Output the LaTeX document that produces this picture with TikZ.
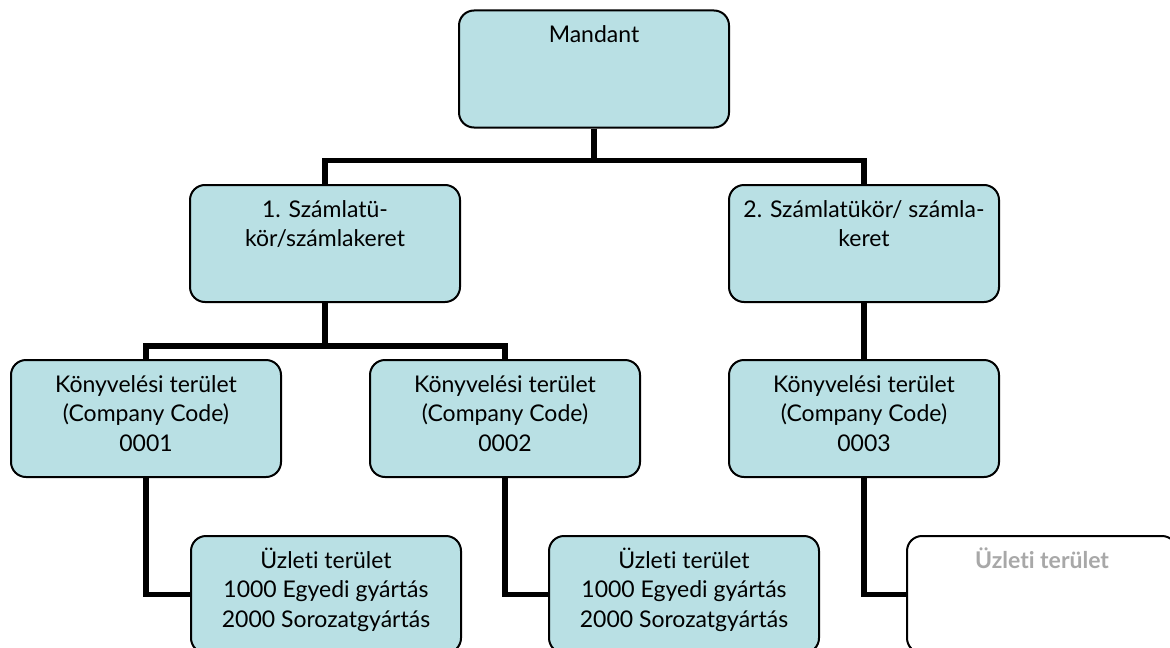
\documentclass[tikz,border=0pt]{standalone}
\usepackage{fontspec}
\setmainfont{Lato}[Ligatures=NoCommon]
\usetikzlibrary{calc,positioning}
\definecolor{boxblue}{RGB}{185,224,228}
\definecolor{greytext}{RGB}{168,168,168}
\newcommand{\boxtext}[1]{\parbox[c][58.5pt][t]{135pt}{\centering\rule{0pt}{16pt}#1}}

\begin{document}
\begin{tikzpicture}[x=0.5pt,y=-0.5pt,
        unit/.style={draw=black,line width=1pt,rounded corners=7.5pt,fill=boxblue,inner sep=0pt,font=\fontsize{11.5}{14.8}\selectfont},
        emptyunit/.style={unit,fill=white,text=greytext,font=\fontsize{11.5}{14.8}\selectfont\bfseries},
        link/.style={line width=2.8pt}]
        \clip (0,0) rectangle (1170,647);
        %\draw[help lines] (0,0) grid (1170,647);
        \node[unit] (mandant) at (594,69) {\boxtext{Mandant}};
        \node[unit] (szamla1) at (325,243.5) {\boxtext{1. Számlatü-\\kör/számlakeret}};
        \node[unit] (szamla2) at (864,243.5) {\boxtext{2. Számlatükör/ számla-\\keret}};
        \node[unit] (konyv1) at (146,418.5) {\boxtext{Könyvelési terület\\(Company Code)\\0001}};
        \node[unit] (konyv2) at (505,418.5) {\boxtext{Könyvelési terület\\(Company Code)\\0002}};
        \node[unit] (konyv3) at (864,418.5) {\boxtext{Könyvelési terület\\(Company Code)\\0003}};
        \node[unit] (uzlet1) at (326,594.5) {\boxtext{Üzleti terület\\1000 Egyedi gyártás\\2000 Sorozatgyártás}};
        \node[unit] (uzlet2) at (684,594.5) {\boxtext{Üzleti terület\\1000 Egyedi gyártás\\2000 Sorozatgyártás}};
        \node[emptyunit] (uzlet3) at (1042,594.5) {\boxtext{Üzleti terület}};
        
        \draw[link] (mandant.south) -- ++(0,32) -| (szamla1.north);
        \draw[link] (mandant.south) -- ++(0,32) -| (szamla2.north);
        \draw[link] (szamla1.south) -- ++(0,43) -| (konyv1.north);
        \draw[link] (szamla1.south) -- ++(0,43) -| (konyv2.north);
        \draw[link] (szamla2.south) -- (konyv3.north);
        \draw[link] (konyv1.south) |- (uzlet1.west);
        \draw[link] (konyv2.south) |- (uzlet2.west);
        \draw[link] (konyv3.south) |- (uzlet3.west);
        
        \end{tikzpicture}
\end{document}
